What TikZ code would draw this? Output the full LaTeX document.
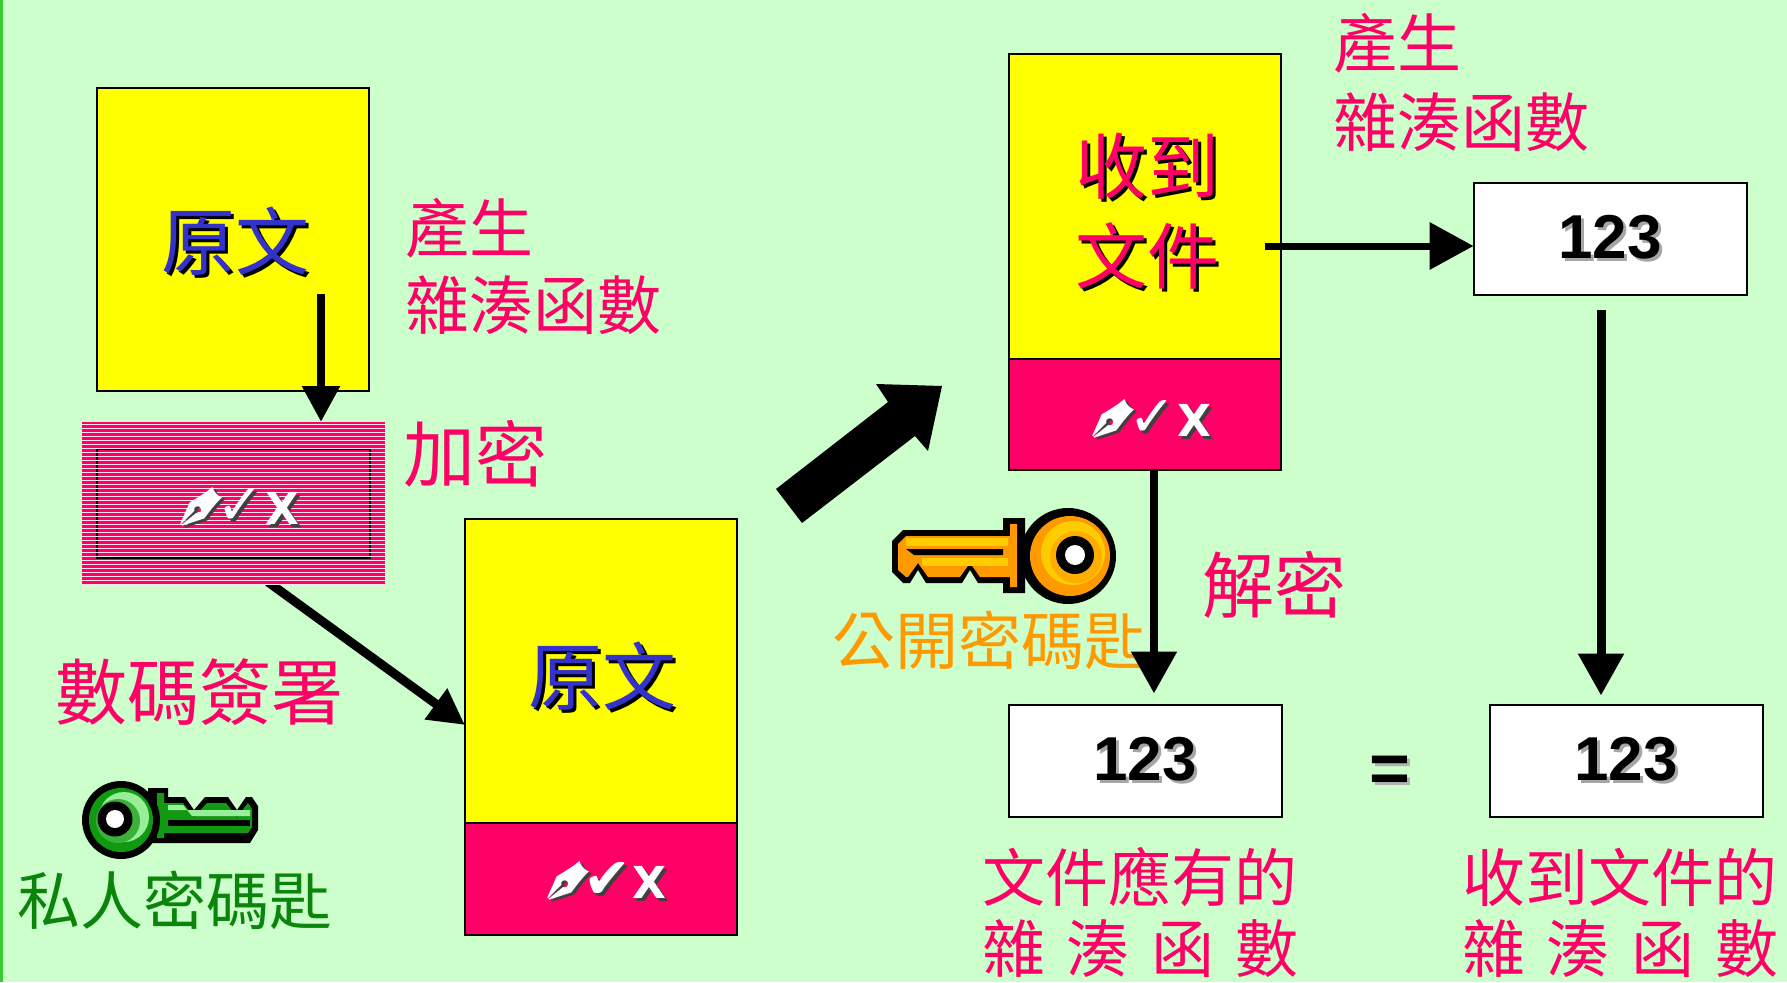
\documentclass[tikz,border=0pt]{standalone}
\usepackage{fontspec}
\setmainfont{Liberation Sans}
\newfontfamily\cjk{Noto Sans CJK TC}
\newfontfamily\symfont{DejaVu Sans}
\usetikzlibrary{arrows.meta,calc}

\definecolor{paper}{HTML}{CCFFCC}
\definecolor{edgegreen}{HTML}{33CC33}
\definecolor{docyellow}{HTML}{FFFF00}
\definecolor{sigpink}{HTML}{FF0066}
\definecolor{docblue}{HTML}{3333CC}
\definecolor{privgreen}{HTML}{0A840A}
\definecolor{puborange}{HTML}{FF9900}
\definecolor{gold}{HTML}{FFCC00}
\definecolor{keydark}{HTML}{119911}
\definecolor{keylight}{HTML}{99EE99}

\newcommand\fsz[1]{\fontsize{#1}{#1}\selectfont}
% text with a drop shadow: #1 colour, #2 shadow colour, #3 offset, #4 text
\newcommand\shadowed[4]{\rlap{\kern#3\raisebox{-#3}{\textcolor{#2}{#4}}}\textcolor{#1}{#4}}
% pen, tick and cross of a signature
\newcommand\penmark{\raisebox{-0.52em}[0.75em][0pt]{\scalebox{1.6}{\rotatebox{42}{\reflectbox{✒}}}}}
\newcommand\sigmarks[1]{{\symfont\fsz{44}\shadowed{white}{black!75}{2.5pt}{\penmark\kern-0.5em\scalebox{1.3}{#1}\kern0.02em\textbf{X}}}}
\newcommand\digits{{\bfseries\fsz{62}\shadowed{black}{black!35}{3pt}{123}}}

\tikzset{
  every node/.style={inner sep=0pt, outer sep=0pt},
  docbox/.style={draw=black, line width=2pt, fill=docyellow, minimum width=272pt},
  sigbox/.style={draw=black, line width=2pt, fill=sigpink, minimum width=272pt},
  hashbox/.style={draw=black, line width=2pt, fill=white, minimum width=273pt, minimum height=112pt},
  pinklabel/.style={font=\cjk\fsz{64}, text=sigpink, anchor=west},
  flow/.style={draw=black, line width=8.5pt, -{Triangle[width=36pt,length=36pt]}},
}

\begin{document}
\begin{tikzpicture}[x=1pt, y=-1pt]
\useasboundingbox (0,0) rectangle (1787,982);
\fill[paper] (0,0) rectangle (1787,982);
\fill[edgegreen] (0,0) rectangle (2.5,982);

% ---------- sender side ----------
\node[docbox, minimum height=303pt] (plainA) at (233,239.5) {};
\node (plainAtext) at (235,243) {\cjk\fsz{74}\shadowed{docblue}{black}{3pt}{原文}};

\node[pinklabel] (mkhashA1) at (405,228) {產生};
\node[pinklabel] (mkhashA2) at (405,305) {雜湊函數};
\node[pinklabel, font=\cjk\fsz{72}] (encrypt) at (403,454) {加密};
\node[pinklabel, font=\cjk\fsz{72}] (signing) at (55,692) {數碼簽署};

% signed document to the plain copy
\coordinate (a2s) at (268,582);
\draw[flow, line width=9pt] (a2s) -- ($(465,671)+(0,54)$);

% striped, encrypted hash
\node[minimum width=303pt, minimum height=162pt, fill=sigpink] (sealed) at (233.5,503) {};
\draw[line width=1.6pt] (97,449) rectangle (370,558);
\foreach \y in {424,428,...,584} \draw[sigpink!10, line width=1pt] (82,\y) -- (385,\y);
\node (sealmark) at (235,508) {\sigmarks{✓}};

\coordinate (a1s) at (321,294);
\draw[flow] (a1s) -- (sealed.north -| a1s);

\node[docbox, minimum height=304pt] (plainB) at (601,671) {};
\node (plainBtext) at (602,678) {\cjk\fsz{74}\shadowed{docblue}{black}{3pt}{原文}};
\node[sigbox, minimum height=112pt] (sigB) at (601,879) {};
\node (sigBmark) at (602,882) {\sigmarks{✔}};

% private key
\fill[black] (148,788) -- (168,788) -- (168,797) -- (185,797) -- (194,810) -- (205,797)
  -- (228,797) -- (237,810) -- (246,797) -- (252,797) -- (258,806) -- (258,830)
  -- (250,843) -- (148,843) -- cycle;
\fill[keydark] (157,793) -- (164,793) -- (164,803) -- (183,803) -- (194,817) -- (207,803)
  -- (226,803) -- (237,817) -- (248,803) -- (252,809) -- (252,827) -- (248,833)
  -- (164,833) -- (164,838) -- (157,838) -- cycle;
\fill[keylight] (168,805) -- (183,805) -- (192,816) -- (250,816) -- (250,810) -- (168,810) -- cycle;
\fill[black] (168,820) rectangle (250,826);
\fill[black] (121,820) circle (39);
\fill[keydark] (121,820) circle (32);
\fill[keylight] (124,817) circle (25);
\fill[keydark!70!keylight] (118,821) circle (22);
\fill[black] (115,819) circle (17.5);
\fill[white] (115,819) circle (9);
\node[anchor=west, font=\cjk\fsz{63}, text=privgreen] (privname) at (17,900) {私人密碼匙};

% transmission
\fill[black] (776,489) -- (888,402) -- (876,384) -- (942,386) -- (928,451) -- (915,436)
  -- (802,523) -- cycle;

% ---------- receiver side ----------
\node[docbox, minimum height=305pt] (recvC) at (1145,206.5) {};
\node (recvCtext1) at (1147,168) {\cjk\fsz{72}\shadowed{sigpink}{black}{3pt}{收到}};
\node (recvCtext2) at (1147,257) {\cjk\fsz{72}\shadowed{sigpink}{black}{3pt}{文件}};
\node[sigbox, minimum height=111pt] (sigC) at (1145,414.5) {};
\node (sigCmark) at (1147,420) {\sigmarks{✓}};

\node[pinklabel] (mkhashC1) at (1333,43) {產生};
\node[pinklabel] (mkhashC2) at (1333,122) {雜湊函數};

\node[hashbox] (hashTop) at (1610,239) {\digits};
\node[hashbox] (hashMid) at (1145,760.5) {\digits};
\node[hashbox] (hashRight) at (1626,760.5) {\digits};
\node (equals) at (1390,776) {{\bfseries\fsz{70}\shadowed{black}{black!30}{3pt}{=}}};

% public key
\fill[black] (1025,518) -- (1003,518) -- (1003,530) -- (903,530) -- (892,541) -- (892,572)
  -- (903,583) -- (910,583) -- (918,570) -- (926,583) -- (962,583) -- (970,570)
  -- (978,583) -- (1003,583) -- (1003,593) -- (1025,593) -- cycle;
\fill[puborange] (1017,524) -- (1010,524) -- (1010,536) -- (906,536) -- (898,544)
  -- (898,570) -- (906,577) -- (908,577) -- (918,563) -- (928,577) -- (960,577)
  -- (970,563) -- (980,577) -- (1010,577) -- (1010,587) -- (1017,587) -- cycle;
\fill[gold] (906,538) rectangle (1008,546);
\fill[gold] (922,558) rectangle (1008,566);
\fill[black] (906,549) -- (1003,549) -- (1003,555) -- (914,555) -- cycle;
\fill[black] (1068,556) circle (48);
\fill[puborange] (1070,556) circle (40);
\fill[gold] (1073,553) circle (32);
\fill[puborange!60!gold] (1076,557) circle (26);
\fill[black] (1075,555) circle (19);
\fill[white] (1075,555) circle (10);
\node[anchor=west, font=\cjk\fsz{63}, text=puborange] (pubname) at (832,640) {公開密碼匙};

\node[pinklabel, font=\cjk\fsz{72}] (decrypt) at (1202,585) {解密};

\coordinate (a3s) at (1265,246);
\draw[flow, line width=7pt, -{Triangle[width=46pt,length=44pt]}] (a3s) -- (hashTop.west |- a3s);
\coordinate (a4s) at ($(sigC.south)+(9,0)$);
\draw[flow, -{Triangle[width=44pt,length=42pt]}] (a4s) -- ($(hashMid.north)+(9,-11)$);
\coordinate (a5s) at ($(hashTop.south)+(-9,15)$);
\draw[flow, line width=9pt, -{Triangle[width=44pt,length=42pt]}] (a5s) -- ($(hashRight.north)+(-25,-9)$);

\node[pinklabel, font=\cjk\fsz{63}] (expect1) at (982,877) {文件應有的};
\node[pinklabel, font=\cjk\fsz{63}] (expect2) at (982,949) {\makebox[317pt]{雜\hfill 湊\hfill 函\hfill 數}};
\node[pinklabel, font=\cjk\fsz{63}] (actual1) at (1462,877) {收到文件的};
\node[pinklabel, font=\cjk\fsz{63}] (actual2) at (1462,949) {\makebox[317pt]{雜\hfill 湊\hfill 函\hfill 數}};
\end{tikzpicture}
\end{document}
